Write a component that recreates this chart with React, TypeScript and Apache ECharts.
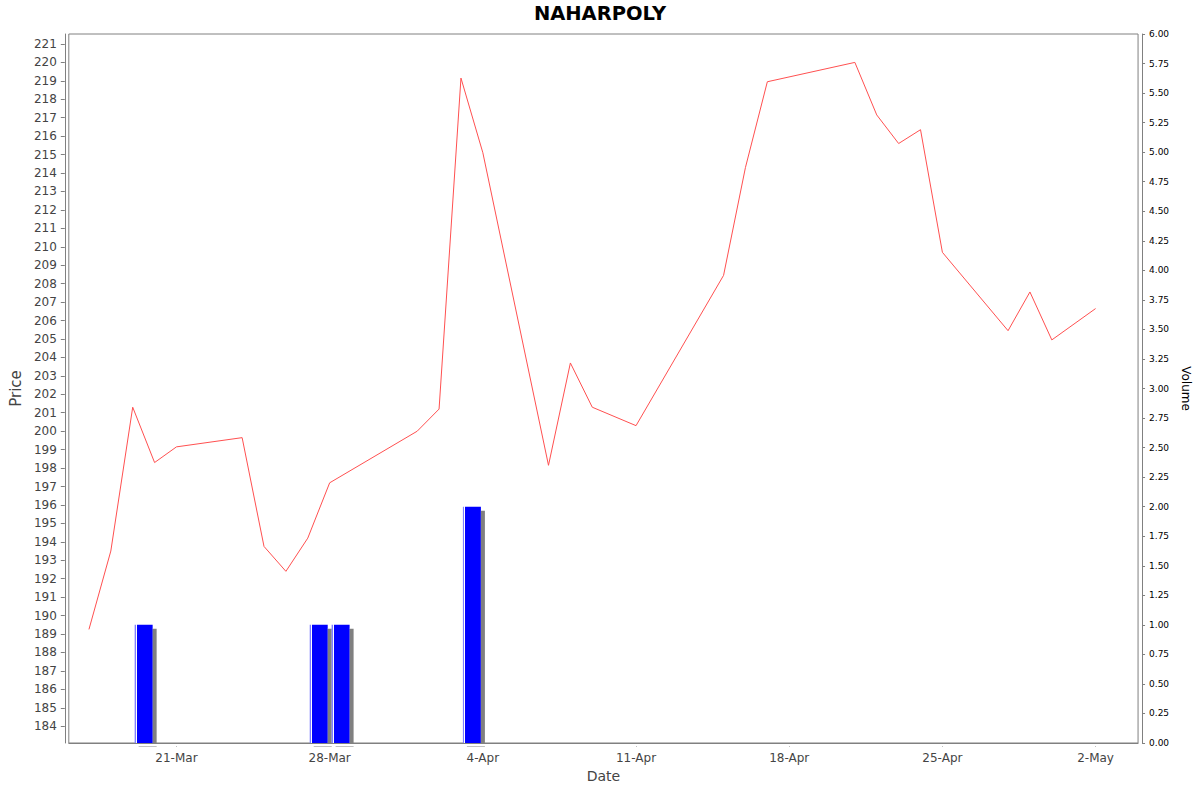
import { useEffect, useRef } from "react";
import * as echarts from "echarts";

const CHART_TITLE = "NAHARPOLY";

// trading days (UTC dates) and closing prices
const PRICE_DATES = [
  "2025-03-17", "2025-03-18", "2025-03-19", "2025-03-20", "2025-03-21",
  "2025-03-24", "2025-03-25", "2025-03-26", "2025-03-27", "2025-03-28",
  "2025-04-01", "2025-04-02", "2025-04-03", "2025-04-04",
  "2025-04-07", "2025-04-08", "2025-04-09", "2025-04-11",
  "2025-04-15", "2025-04-16", "2025-04-17",
  "2025-04-21", "2025-04-22", "2025-04-23", "2025-04-24", "2025-04-25",
  "2025-04-28", "2025-04-29", "2025-04-30", "2025-05-02",
];
const PRICES = [
  189.25, 193.5, 201.3, 198.3, 199.15,
  199.65, 193.75, 192.4, 194.2, 197.2,
  200.0, 201.2, 219.15, 215.1,
  198.15, 203.7, 201.3, 200.3,
  208.45, 214.3, 218.95,
  220.0, 217.15, 215.6, 216.35, 209.7,
  205.45, 207.55, 204.95, 206.65,
];

const VOLUME_DATES = ["2025-03-19", "2025-03-27", "2025-03-28", "2025-04-03"];
const VOLUMES = [1, 1, 1, 2];

const X_TICKS = [
  "2025-03-21", "2025-03-28", "2025-04-04", "2025-04-11",
  "2025-04-18", "2025-04-25", "2025-05-02",
];
const X_MIN = "2025-03-16T01:55:00Z";
const X_MAX = "2025-05-03T22:35:00Z";

const PRICE_MIN = 183.09;
const PRICE_MAX = 221.54;
const PRICE_TICKS = Array.from({ length: 38 }, (_, i) => 184 + i);

const VOLUME_MIN = 0;
const VOLUME_MAX = 6;
const VOLUME_STEP = 0.25;

const MONTHS = ["Jan", "Feb", "Mar", "Apr", "May", "Jun", "Jul", "Aug", "Sep", "Oct", "Nov", "Dec"];
const HALF_DAY = 12 * 3600 * 1000;
const FONT = "'DejaVu Sans', sans-serif";


function formatDay(value: number): string {
  const d = new Date(value);
  return `${d.getUTCDate()}-${MONTHS[d.getUTCMonth()]}`;
}


export default function App() {
  const containerRef = useRef<HTMLDivElement | null>(null);

  useEffect(() => {
    if (!containerRef.current) {
      return;
    }

    const chart = echarts.init(containerRef.current, undefined, { renderer: "svg" });
    const xTickValues = X_TICKS.map((d) => Date.parse(d));

    const option: echarts.EChartsOption = {
      animation: false,
      backgroundColor: "#ffffff",
      textStyle: { fontFamily: FONT },
      title: {
        text: CHART_TITLE,
        left: "center",
        top: -2,
        textStyle: {
          fontFamily: FONT,
          fontSize: 19.5,
          fontWeight: "bold",
          color: "#000000",
        },
      },
      grid: {
        left: 67,
        right: 61,
        top: 34,
        bottom: 49,
        show: true,
        backgroundColor: "#ffffff",
        borderColor: "#808080",
        borderWidth: 1,
      },
      // hides the part of the bar shadows that falls below the plot frame
      graphic: [
        {
          type: "rect",
          z: 100,
          silent: true,
          shape: { x: 68, y: 744, width: 1072, height: 2.5 },
          style: { fill: "#ffffff" },
        },
      ],
      xAxis: {
        type: "value",
        min: Date.parse(X_MIN),
        max: Date.parse(X_MAX),
        offset: 4,
        name: "Date",
        nameLocation: "middle",
        nameGap: 22,
        nameTextStyle: { fontFamily: FONT, fontSize: 14, color: "#444444" },
        splitLine: { show: false },
        axisLine: { lineStyle: { color: "#808080", width: 1 } },
        axisTick: {
          length: 4,
          lineStyle: { color: "#808080" },
          customValues: xTickValues,
        },
        axisLabel: {
          customValues: xTickValues,
          formatter: (value: number) => formatDay(value),
          fontFamily: FONT,
          fontSize: 12,
          color: "#444444",
          margin: 5,
        },
      },
      yAxis: [
        {
          type: "value",
          position: "left",
          min: PRICE_MIN,
          max: PRICE_MAX,
          offset: 4,
          name: "Price",
          nameLocation: "middle",
          nameRotate: 90,
          nameGap: 32,
          nameTextStyle: { fontFamily: FONT, fontSize: 15, color: "#444444" },
          splitLine: { show: false },
          axisLine: { show: true, lineStyle: { color: "#808080", width: 1 } },
          axisTick: {
            show: true,
            length: 4,
            lineStyle: { color: "#808080" },
            customValues: PRICE_TICKS,
          },
          axisLabel: {
            customValues: PRICE_TICKS,
            fontFamily: FONT,
            fontSize: 12,
            color: "#444444",
            margin: 8,
          },
        },
        {
          type: "value",
          position: "right",
          min: VOLUME_MIN,
          max: VOLUME_MAX,
          interval: VOLUME_STEP,
          offset: 4,
          name: "Volume",
          nameLocation: "middle",
          nameRotate: -90,
          nameGap: 31,
          nameTextStyle: { fontFamily: FONT, fontSize: 12, color: "#000000" },
          splitLine: { show: false },
          axisLine: { show: true, lineStyle: { color: "#808080", width: 1 } },
          axisTick: { show: true, length: 3, lineStyle: { color: "#808080" } },
          axisLabel: {
            formatter: (value: number) => value.toFixed(2),
            fontFamily: FONT,
            fontSize: 9,
            color: "#000000",
            margin: 7,
          },
        },
      ],
      series: [
        {
          type: "bar",
          name: "Volume",
          yAxisIndex: 1,
          barWidth: 18,
          z: 1,
          data: VOLUME_DATES.map((d, i) => [Date.parse(d) + HALF_DAY, VOLUMES[i]]),
          itemStyle: {
            color: new echarts.graphic.LinearGradient(0, 0, 1, 0, [
              { offset: 0, color: "#7f7fff" },
              { offset: 0.06, color: "#7f7fff" },
              { offset: 0.06, color: "#ffffff" },
              { offset: 0.14, color: "#ffffff" },
              { offset: 0.14, color: "#0000ff" },
              { offset: 1, color: "#0000ff" },
            ]),
            shadowColor: "#808080",
            shadowBlur: 0,
            shadowOffsetX: 4,
            shadowOffsetY: 4,
          },
        },
        {
          type: "line",
          name: "Price",
          yAxisIndex: 0,
          z: 3,
          symbol: "none",
          data: PRICE_DATES.map((d, i) => [Date.parse(d), PRICES[i]]),
          lineStyle: { color: "#ff5050", width: 1 },
        },
      ],
    };

    chart.setOption(option);

    return () => {
      chart.dispose();
    };
  }, []);

  return (
    <div
      ref={containerRef}
      style={{ position: "absolute", left: 0, top: 0, width: 1200, height: 792 }}
    />
  );
}
